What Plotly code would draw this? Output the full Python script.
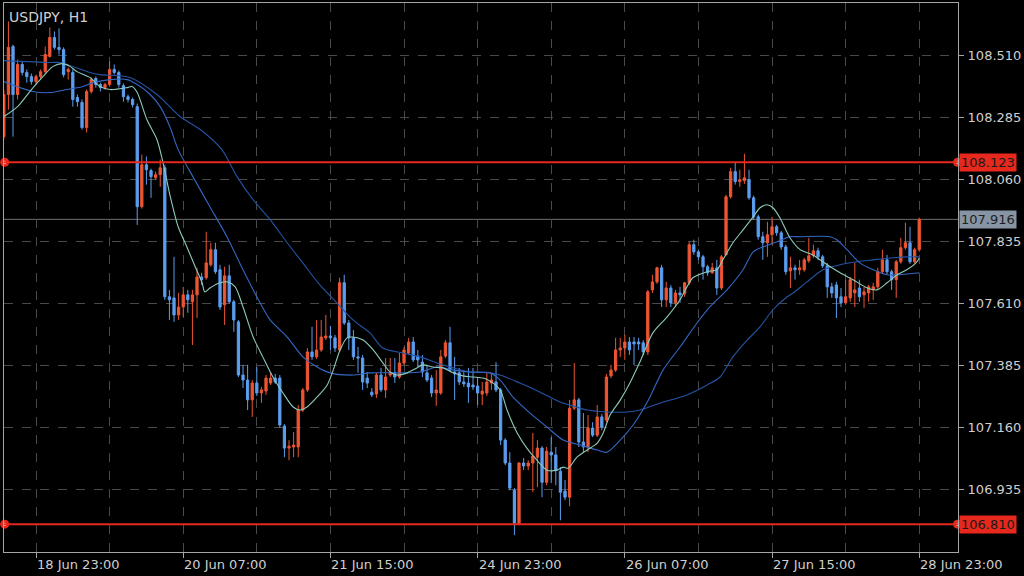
import plotly.graph_objects as go

# ---------------- data ----------------
bar_index = list(range(-7, 193))

opens = [108.216, 108.369, 108.543, 108.369, 108.478, 108.449, 108.434,
         108.416, 108.434, 108.452, 108.507, 108.576, 108.540, 108.532, 108.452, 108.449, 108.358,
         108.340, 108.249, 108.380, 108.427, 108.405, 108.394, 108.405, 108.460, 108.449, 108.401,
         108.361, 108.351, 108.325, 107.962, 108.114, 108.093, 108.067, 108.078, 108.103, 107.635,
         107.631, 107.569, 107.598, 107.642, 107.617, 107.642, 107.707, 107.704, 107.751, 107.806,
         107.733, 107.606, 107.711, 107.617, 107.544, 107.351, 107.333, 107.261, 107.322, 107.286,
         107.293, 107.322, 107.340, 107.340, 107.166, 107.086, 107.090, 107.090, 107.224, 107.297,
         107.435, 107.417, 107.442, 107.486, 107.493, 107.486, 107.442, 107.686, 107.540, 107.486,
         107.417, 107.413, 107.340, 107.289, 107.282, 107.351, 107.297, 107.351, 107.359, 107.344,
         107.395, 107.431, 107.471, 107.420, 107.398, 107.359, 107.340, 107.286, 107.286, 107.420,
         107.468, 107.362, 107.359, 107.326, 107.322, 107.315, 107.311, 107.282, 107.286, 107.322,
         107.326, 107.297, 107.115, 107.032, 106.933, 106.813, 107.032, 107.021, 107.032, 107.053,
         107.086, 106.962, 107.071, 107.061, 107.002, 106.930, 106.908, 107.231, 107.261, 107.108,
         107.090, 107.159, 107.133, 107.199, 107.188, 107.348, 107.369, 107.442, 107.449, 107.471,
         107.471, 107.471, 107.468, 107.435, 107.660, 107.689, 107.740, 107.624, 107.667, 107.613,
         107.649, 107.646, 107.686, 107.824, 107.798, 107.780, 107.744, 107.722, 107.740, 107.667,
         107.787, 107.998, 108.089, 108.053, 108.056, 108.060, 107.994, 107.925, 107.853, 107.831,
         107.860, 107.889, 107.867, 107.816, 107.729, 107.740, 107.733, 107.733, 107.766, 107.784,
         107.802, 107.780, 107.747, 107.671, 107.678, 107.635, 107.613, 107.631, 107.649, 107.667,
         107.642, 107.649, 107.660, 107.671, 107.726, 107.769, 107.726, 107.697, 107.762, 107.813,
         107.831, 107.762, 107.806]

highs = [108.387, 108.634, 108.550, 108.496, 108.489, 108.460, 108.445,
         108.441, 108.460, 108.543, 108.612, 108.598, 108.609, 108.540, 108.467, 108.460, 108.369,
         108.351, 108.387, 108.431, 108.434, 108.412, 108.412, 108.489, 108.478, 108.456, 108.409,
         108.369, 108.358, 108.336, 108.151, 108.144, 108.100, 108.089, 108.133, 108.114, 107.660,
         107.780, 107.649, 107.671, 107.660, 107.660, 107.740, 107.722, 107.871, 107.831, 107.831,
         107.751, 107.744, 107.751, 107.624, 107.551, 107.388, 107.388, 107.333, 107.380, 107.308,
         107.351, 107.362, 107.355, 107.351, 107.173, 107.115, 107.144, 107.242, 107.304, 107.449,
         107.526, 107.551, 107.551, 107.569, 107.529, 107.497, 107.704, 107.715, 107.551, 107.515,
         107.453, 107.424, 107.362, 107.304, 107.359, 107.377, 107.413, 107.413, 107.413, 107.431,
         107.453, 107.486, 107.489, 107.442, 107.424, 107.388, 107.351, 107.369, 107.442, 107.478,
         107.526, 107.417, 107.377, 107.362, 107.377, 107.377, 107.344, 107.326, 107.359, 107.359,
         107.398, 107.304, 107.122, 107.071, 106.941, 107.035, 107.050, 107.042, 107.141, 107.115,
         107.093, 107.090, 107.126, 107.090, 107.017, 106.970, 107.261, 107.395, 107.268, 107.213,
         107.206, 107.180, 107.242, 107.210, 107.355, 107.388, 107.486, 107.486, 107.497, 107.489,
         107.489, 107.486, 107.478, 107.660, 107.715, 107.744, 107.751, 107.689, 107.678, 107.660,
         107.671, 107.689, 107.835, 107.842, 107.806, 107.787, 107.751, 107.758, 107.769, 107.787,
         108.005, 108.103, 108.122, 108.096, 108.154, 108.096, 108.002, 107.933, 107.871, 107.907,
         107.925, 107.896, 107.874, 107.824, 107.780, 107.751, 107.769, 107.776, 107.849, 107.824,
         107.813, 107.787, 107.758, 107.686, 107.689, 107.667, 107.697, 107.707, 107.758, 107.697,
         107.671, 107.678, 107.686, 107.740, 107.806, 107.787, 107.733, 107.769, 107.849, 107.904,
         107.889, 107.813, 107.922]

lows = [108.205, 108.314, 108.216, 108.351, 108.438, 108.412, 108.405,
        108.405, 108.423, 108.445, 108.503, 108.532, 108.514, 108.431, 108.423, 108.325, 108.325,
        108.242, 108.231, 108.372, 108.394, 108.380, 108.387, 108.398, 108.441, 108.394, 108.343,
        108.340, 108.322, 107.896, 107.955, 108.042, 107.994, 108.060, 108.034, 107.624, 107.551,
        107.544, 107.551, 107.562, 107.577, 107.460, 107.558, 107.678, 107.697, 107.744, 107.718,
        107.587, 107.533, 107.609, 107.508, 107.344, 107.304, 107.224, 107.199, 107.275, 107.250,
        107.279, 107.315, 107.319, 107.159, 107.053, 107.042, 107.053, 107.053, 107.217, 107.289,
        107.406, 107.409, 107.435, 107.478, 107.442, 107.435, 107.435, 107.533, 107.442, 107.406,
        107.359, 107.297, 107.304, 107.271, 107.268, 107.289, 107.268, 107.344, 107.322, 107.337,
        107.388, 107.424, 107.398, 107.380, 107.344, 107.326, 107.271, 107.239, 107.279, 107.413,
        107.362, 107.261, 107.315, 107.308, 107.250, 107.297, 107.242, 107.242, 107.275, 107.297,
        107.289, 107.097, 107.024, 106.933, 106.770, 106.806, 107.006, 107.006, 106.926, 106.944,
        106.908, 106.951, 106.959, 106.951, 106.824, 106.897, 106.875, 107.224, 107.090, 107.071,
        107.071, 107.126, 107.126, 107.151, 107.180, 107.340, 107.362, 107.417, 107.406, 107.424,
        107.388, 107.442, 107.424, 107.424, 107.649, 107.682, 107.598, 107.598, 107.598, 107.598,
        107.613, 107.635, 107.678, 107.787, 107.769, 107.697, 107.711, 107.718, 107.642, 107.660,
        107.787, 107.991, 108.042, 108.034, 108.045, 107.987, 107.915, 107.842, 107.769, 107.780,
        107.824, 107.856, 107.806, 107.715, 107.667, 107.697, 107.715, 107.726, 107.758, 107.776,
        107.769, 107.740, 107.631, 107.631, 107.558, 107.598, 107.606, 107.617, 107.598, 107.617,
        107.595, 107.617, 107.624, 107.660, 107.718, 107.715, 107.660, 107.631, 107.755, 107.806,
        107.755, 107.755, 107.798]

closes = [108.369, 108.540, 108.369, 108.478, 108.449, 108.434, 108.416,
          108.434, 108.452, 108.514, 108.576, 108.540, 108.532, 108.441, 108.460, 108.351, 108.343,
          108.249, 108.380, 108.423, 108.405, 108.394, 108.405, 108.460, 108.449, 108.405, 108.361,
          108.351, 108.332, 107.962, 108.114, 108.096, 108.071, 108.078, 108.103, 107.635, 107.624,
          107.569, 107.598, 107.642, 107.624, 107.642, 107.707, 107.697, 107.758, 107.806, 107.726,
          107.598, 107.711, 107.617, 107.551, 107.351, 107.333, 107.261, 107.322, 107.286, 107.297,
          107.340, 107.340, 107.326, 107.170, 107.086, 107.093, 107.097, 107.224, 107.297, 107.435,
          107.417, 107.442, 107.489, 107.493, 107.486, 107.449, 107.686, 107.540, 107.486, 107.417,
          107.413, 107.326, 107.322, 107.279, 107.351, 107.297, 107.344, 107.359, 107.344, 107.395,
          107.442, 107.471, 107.406, 107.406, 107.362, 107.333, 107.286, 107.297, 107.417, 107.468,
          107.369, 107.355, 107.326, 107.319, 107.308, 107.308, 107.286, 107.293, 107.326, 107.333,
          107.297, 107.115, 107.032, 106.941, 106.813, 107.032, 107.021, 107.032, 107.057, 107.086,
          106.962, 107.075, 107.061, 107.006, 106.926, 106.908, 107.231, 107.261, 107.108, 107.090,
          107.159, 107.133, 107.199, 107.162, 107.344, 107.369, 107.442, 107.449, 107.471, 107.442,
          107.464, 107.464, 107.435, 107.653, 107.689, 107.740, 107.624, 107.667, 107.613, 107.649,
          107.642, 107.686, 107.824, 107.798, 107.780, 107.744, 107.722, 107.740, 107.667, 107.780,
          107.998, 108.089, 108.053, 108.060, 108.067, 107.994, 107.925, 107.853, 107.831, 107.860,
          107.889, 107.867, 107.816, 107.726, 107.740, 107.733, 107.740, 107.769, 107.784, 107.802,
          107.780, 107.747, 107.671, 107.649, 107.631, 107.613, 107.635, 107.697, 107.660, 107.635,
          107.653, 107.671, 107.671, 107.726, 107.769, 107.726, 107.697, 107.762, 107.813, 107.831,
          107.762, 107.806, 107.916]

# moving averages (bar position, price)
ma_fast_x = [-7, -4, -1, 1.5, 3.7, 5.7, 7.4, 8.9, 11.7, 13.9, 16.1, 19.8, 20.9, 22, 24.1, 26.3,
             27.6, 29.1, 30.9, 32.8, 34.6, 36.1, 36.7, 37.8, 40, 41.7, 43.3, 45, 47.2, 49.3, 51.5,
             53.7, 55.9, 57.4, 58.9, 61.1, 63.3, 64.6, 66.1, 67.6, 68.9, 71.1, 73.3, 75.4, 77, 78.5,
             80.7, 82.8, 84.1, 86.3, 88.5, 90.7, 92.8, 95, 97.2, 98.7, 100.9, 102.4, 104.6, 106.7,
             108.9, 111.1, 113.3, 114.6, 115.7, 117.6, 119.8, 122, 123.3, 124.8, 127, 129.1, 131.3,
             134.1, 137.2, 140, 141.5, 142.8, 145.9, 148, 149.3, 151.5, 153.7, 155.9, 157.4, 158.9,
             160.2, 161.7, 163.9, 166.1, 168.9, 172, 174.8, 177.6, 180.7, 182.8, 185, 187.2, 189.3,
             191.5, 192]
ma_fast_y = [108.289, 108.325, 108.387, 108.434, 108.471, 108.481, 108.471, 108.452, 108.431,
             108.398, 108.387, 108.394, 108.398, 108.376, 108.278, 108.205, 108.122, 108.005,
             107.889, 107.816, 107.744, 107.686, 107.653, 107.667, 107.686, 107.689, 107.671,
             107.598, 107.489, 107.417, 107.344, 107.286, 107.235, 107.224, 107.235, 107.271,
             107.315, 107.369, 107.442, 107.486, 107.489, 107.478, 107.442, 107.395, 107.362,
             107.351, 107.359, 107.377, 107.388, 107.380, 107.377, 107.359, 107.348, 107.344,
             107.340, 107.329, 107.297, 107.224, 107.141, 107.086, 107.042, 107.006, 107.006,
             107.017, 107.013, 107.053, 107.079, 107.104, 107.141, 107.206, 107.260, 107.322,
             107.399, 107.504, 107.562, 107.624, 107.671, 107.704, 107.726, 107.733, 107.769,
             107.831, 107.878, 107.925, 107.958, 107.969, 107.958, 107.922, 107.849, 107.806,
             107.787, 107.751, 107.722, 107.697, 107.667, 107.660, 107.686, 107.715, 107.733,
             107.762, 107.776]

ma_mid_x = [-7, -0.7, 3, 6.7, 10.2, 12.4, 16.1, 19.8, 22, 24.8, 27, 29.1, 30.9, 34.1, 37.8, 41.5,
            45, 48, 50.9, 54.6, 58, 61.1, 63.9, 68.9, 72.6, 79.8, 83.5, 87.2, 90.7, 94.3, 98.7,
            100.9, 103.7, 107.4, 111.1, 114.6, 118.3, 122, 124.1, 127, 129.8, 133.1, 136.3, 140,
            143.7, 146.5, 150.2, 153.7, 155.9, 158, 161.1, 163.9, 166.1, 172.6, 174.1, 176.3,
            179.1, 182, 185, 187.8, 192]
ma_mid_y = [108.416, 108.380, 108.376, 108.387, 108.398, 108.412, 108.423, 108.423, 108.405,
            108.369, 108.325, 108.252, 108.169, 108.071, 107.962, 107.853, 107.733, 107.635,
            107.551, 107.489, 107.417, 107.380, 107.359, 107.351, 107.359, 107.359, 107.362,
            107.380, 107.369, 107.362, 107.359, 107.333, 107.271, 107.213, 107.162, 107.115,
            107.097, 107.079, 107.071, 107.115, 107.170, 107.260, 107.369, 107.453, 107.540,
            107.598, 107.660, 107.733, 107.798, 107.816, 107.835, 107.853, 107.853, 107.853,
            107.842, 107.806, 107.758, 107.733, 107.715, 107.715, 107.722]

ma_slow_x = [-7, 3, 5.2, 11.7, 13.9, 20.4, 26.3, 31.3, 35.7, 40.4, 43.7, 47.2, 50.9, 54.6, 58,
             61.7, 65.4, 68.9, 72.6, 75.4, 79.8, 83.5, 87.2, 90.7, 94.3, 98.7, 100.9, 105.2, 109.6,
             113.9, 116.1, 119.8, 124.1, 128.5, 131.3, 135.7, 141.5, 145.9, 148.7, 151.5, 154.6,
             157.4, 160.2, 163.3, 164.6, 167.6, 171.1, 174.8, 178.5, 182, 185.7, 189.3, 192]
ma_slow_y = [108.492, 108.485, 108.485, 108.449, 108.441, 108.431, 108.369, 108.289, 108.242,
             108.169, 108.071, 107.987, 107.915, 107.831, 107.758, 107.678, 107.613, 107.551,
             107.504, 107.449, 107.431, 107.417, 107.395, 107.377, 107.362, 107.359, 107.351,
             107.322, 107.289, 107.253, 107.242, 107.224, 107.217, 107.217, 107.224, 107.250,
             107.279, 107.315, 107.344, 107.417, 107.478, 107.526, 107.588, 107.635, 107.649,
             107.689, 107.733, 107.751, 107.762, 107.769, 107.776, 107.780, 107.780]

x_label_pos = [0, 32, 64, 96, 128, 160, 192]
x_labels = ["18 Jun 23:00", "20 Jun 07:00", "21 Jun 15:00", "24 Jun 23:00",
            "26 Jun 07:00", "27 Jun 15:00", "28 Jun 23:00"]
y_ticks = [106.935, 107.160, 107.385, 107.610, 107.835, 108.060, 108.285, 108.510]

resistance = 108.123
support = 106.810
last_price = 107.916
symbol_title = "USDJPY, H1"

# ---------------- styles ----------------
RED = "#ee5533"
BLUE = "#5c9eef"
LEVEL_RED = "#e6281d"
GRID = "#4a4a4a"
FRAME = "#a6a6a6"
TXT = "#cfcfcf"
FONT = "DejaVu Sans, Verdana, sans-serif"

fig = go.Figure()

fig.add_trace(go.Candlestick(
    x=bar_index, open=opens, high=highs, low=lows, close=closes,
    increasing=dict(line=dict(color=RED, width=1), fillcolor=RED),
    decreasing=dict(line=dict(color=BLUE, width=1), fillcolor=BLUE),
    whiskerwidth=0, hoverinfo="skip", showlegend=False,
))

fig.add_trace(go.Scatter(x=ma_slow_x, y=ma_slow_y, mode="lines",
                         line=dict(color="#2553a3", width=1.1, shape="spline", smoothing=0.8),
                         hoverinfo="skip", showlegend=False))
fig.add_trace(go.Scatter(x=ma_mid_x, y=ma_mid_y, mode="lines",
                         line=dict(color="#3467c4", width=1.1, shape="spline", smoothing=0.8),
                         hoverinfo="skip", showlegend=False))
fig.add_trace(go.Scatter(x=ma_fast_x, y=ma_fast_y, mode="lines",
                         line=dict(color="#8ccbbb", width=1.1, shape="spline", smoothing=0.8),
                         hoverinfo="skip", showlegend=False))

x_min, x_max = -6.96, 200.43

# level lines
for lvl in (resistance, support):
    fig.add_shape(type="line", xref="paper", x0=0, x1=1, yref="y", y0=lvl, y1=lvl,
                  line=dict(color=LEVEL_RED, width=2), layer="above")
fig.add_shape(type="line", xref="paper", x0=0, x1=1, yref="y", y0=last_price, y1=last_price,
              line=dict(color="#6e6e6e", width=1), layer="below")

# end handles of level lines
for lvl in (resistance, support):
    fig.add_trace(go.Scatter(x=[x_min + 0.15, x_max - 0.1], y=[lvl, lvl], mode="markers",
                             marker=dict(size=9, color=LEVEL_RED), cliponaxis=False,
                             hoverinfo="skip", showlegend=False))
    fig.add_trace(go.Scatter(x=[x_min + 0.15, x_max - 0.1], y=[lvl, lvl], mode="markers",
                             marker=dict(size=3, color="white"), cliponaxis=False,
                             hoverinfo="skip", showlegend=False))

annotations = [dict(text=symbol_title, xref="paper", yref="paper", x=0, y=1,
                    xanchor="left", yanchor="top", xshift=3, yshift=-4, showarrow=False,
                    font=dict(family=FONT, size=14, color=TXT))]
for pos, lab in zip(x_label_pos, x_labels):
    annotations.append(dict(text=lab, xref="x", yref="paper", x=pos, y=0,
                            xanchor="left", yanchor="middle", yshift=-12, xshift=-1,
                            showarrow=False,
                            font=dict(family=FONT, size=13, color=TXT)))
for lvl, bg, fc in ((resistance, LEVEL_RED, "#1a1a1a"), (support, LEVEL_RED, "#1a1a1a"),
                    (last_price, "#8794a3", "#1f1f1f")):
    annotations.append(dict(text=f"{lvl:.3f}", xref="paper", yref="y", x=1, y=lvl,
                            xanchor="left", yanchor="middle", xshift=1, showarrow=False,
                            bgcolor=bg, borderpad=1,
                            font=dict(family=FONT, size=13, color=fc)))

fig.update_layout(
    width=1024, height=576,
    margin=dict(l=4, r=66, t=3, b=24),
    paper_bgcolor="black", plot_bgcolor="black",
    showlegend=False,
    annotations=annotations,
    boxgap=0.3,
    xaxis=dict(range=[x_min, x_max], rangeslider=dict(visible=False),
               tickmode="linear", tick0=0, dtick=32,
               showgrid=True, gridcolor=GRID, griddash="dash", gridwidth=1,
               minor=dict(tickmode="linear", tick0=0, dtick=16, showgrid=True,
                          gridcolor=GRID, griddash="dash", ticks=""),
               showline=True, mirror=True, linecolor=FRAME, linewidth=1,
               ticks="outside", ticklen=5, tickcolor=FRAME,
               showticklabels=False, zeroline=False, fixedrange=True),
    yaxis=dict(range=[106.709, 108.701], side="right",
               tickmode="array", tickvals=y_ticks, ticktext=[f"{v:.3f}" for v in y_ticks],
               showgrid=True, gridcolor=GRID, griddash="dash", gridwidth=1,
               showline=True, mirror=True, linecolor=FRAME, linewidth=1,
               ticks="outside", ticklen=5, tickcolor=FRAME, ticklabelstandoff=1,
               tickfont=dict(family=FONT, size=13, color=TXT),
               zeroline=False, fixedrange=True),
)

fig.write_html("out.html", config={"displayModeBar": False},
               post_script="document.body.style.margin='0';document.body.style.background='black';")
